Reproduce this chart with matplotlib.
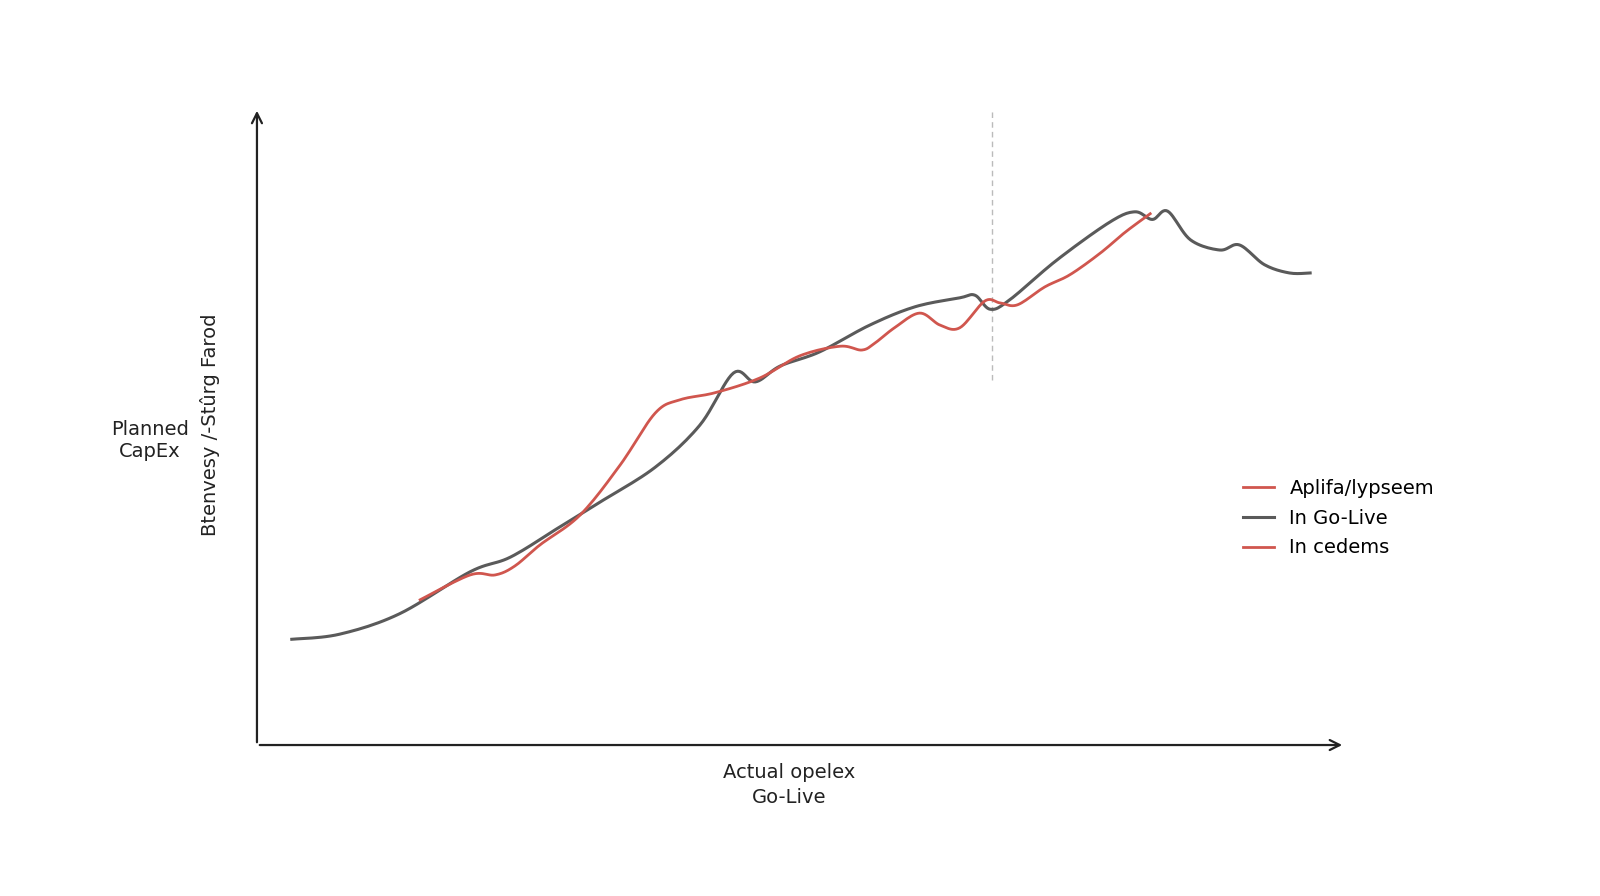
import matplotlib
matplotlib.use("Agg")
import matplotlib.pyplot as plt
import numpy as np

gray_x = [3.2, 7.6, 13.1, 19.6, 23.3, 27.8, 31.5, 36.6, 40.7, 43.8, 45.8, 48.1, 51.7, 56.3, 60.5, 64.6, 66.0, 67.4, 69.2, 73.5, 78.4, 80.7, 82.3, 83.7, 85.8, 88.5, 90.3, 92.6, 94.9, 96.8]
gray_y = [16.6, 17.4, 20.6, 27.2, 29.5, 34.2, 38.1, 43.6, 50.2, 58.4, 57.0, 59.5, 61.7, 65.9, 68.8, 70.2, 70.6, 68.4, 69.9, 76.1, 82.1, 83.7, 82.5, 83.8, 79.3, 77.7, 78.5, 75.4, 74.1, 74.1]
red_x = [15.0, 19.6, 21.9, 23.7, 26.0, 29.7, 33.4, 36.6, 38.9, 42.1, 46.2, 49.9, 53.6, 55.6, 56.8, 58.6, 60.9, 62.8, 64.6, 66.9, 68.3, 69.9, 72.4, 74.7, 77.5, 79.8, 82.1]
red_y = [22.8, 26.7, 26.7, 28.1, 31.4, 36.1, 44.0, 52.1, 54.2, 55.3, 57.6, 61.1, 62.6, 62.0, 63.1, 65.5, 67.8, 65.9, 65.5, 69.7, 69.4, 69.1, 71.9, 73.8, 77.2, 80.5, 83.4]
marker_x = 67.6
legend_labels = ["Aplifa/lypseem", "In Go-Live", "In cedems"]

RED = "#d0564e"
GRAY = "#5a5a5a"


def smooth(xs, ys, n=12):
    p = np.column_stack([xs, ys]).astype(float)
    p = np.vstack([p[0], p, p[-1]])
    out = []
    t = np.linspace(0, 1, n, endpoint=False)[:, None]
    for i in range(1, len(p) - 2):
        p0, p1, p2, p3 = p[i - 1], p[i], p[i + 1], p[i + 2]
        seg = 0.5 * ((2 * p1) + (-p0 + p2) * t + (2 * p0 - 5 * p1 + 4 * p2 - p3) * t ** 2
                     + (-p0 + 3 * p1 - 3 * p2 + p3) * t ** 3)
        out.append(seg)
    out.append(p[-2][None, :])
    out = np.vstack(out)
    return out[:, 0], out[:, 1]


fig = plt.figure(figsize=(16, 8.96), dpi=100)
ax = fig.add_axes([0.1606, 0.1685, 0.68, 0.711])
ax.set_xlim(0, 100)
ax.set_ylim(0, 100)
for s in ax.spines.values():
    s.set_visible(False)
ax.set_xticks([]); ax.set_yticks([])
ax.annotate("", xy=(1.0, 0), xytext=(0, 0), xycoords="axes fraction",
            arrowprops=dict(arrowstyle="->", color="#222222", lw=1.6, mutation_scale=18))
ax.annotate("", xy=(0, 1.0), xytext=(0, 0), xycoords="axes fraction",
            arrowprops=dict(arrowstyle="->", color="#222222", lw=1.6, mutation_scale=18))

ax.plot([marker_x, marker_x], [57.3, 99.5], color="#bbbbbb", lw=1, ls=(0, (4, 3)))
gx, gy = smooth(gray_x, gray_y)
rx, ry = smooth(red_x, red_y)
l2, = ax.plot(gx, gy, color=GRAY, lw=2.2, solid_joinstyle="round")
l1, = ax.plot(rx, ry, color=RED, lw=2.0, solid_joinstyle="round")
l3, = ax.plot([], [], color=RED, lw=2.0)

ax.legend([l1, l2, l3], legend_labels, loc="upper left", bbox_to_anchor=(0.89, 0.445),
          frameon=False, fontsize=14, handlelength=1.6, labelspacing=0.55)

fig.text(150/1600, 1-440/896, "Planned\nCapEx", ha="center", va="center", fontsize=14, color="#222222")
fig.text(210/1600, 1-425/896, "Btenvesy /-Stûrg Farod", ha="center", va="center", rotation=90,
         fontsize=14, color="#222222")
fig.text(789/1600, 1-785/896, "Actual opelex\nGo-Live", ha="center", va="center", fontsize=14,
         color="#222222", linespacing=1.4)

fig.savefig("out.png", dpi=100, facecolor="white")
